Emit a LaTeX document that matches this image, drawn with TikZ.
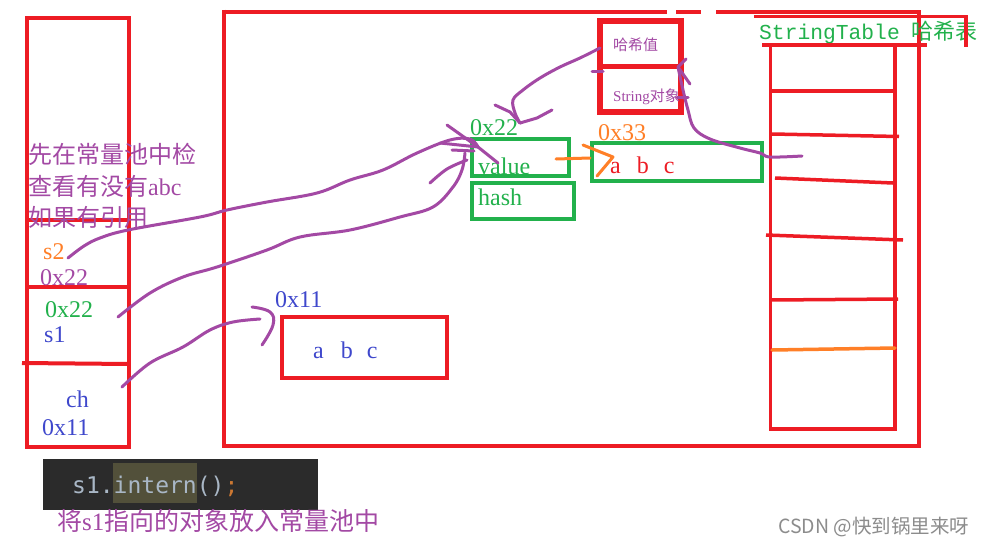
\documentclass[tikz,border=0pt]{standalone}
\usepackage{fontspec}
\setmainfont{Liberation Serif}
\newfontfamily\cjk{Noto Sans CJK SC}
\newfontfamily\monoA{Liberation Mono}
\newfontfamily\codefont{DejaVu Sans Mono}
\definecolor{pred}{HTML}{ED1C24}
\definecolor{pgreen}{HTML}{22B14C}
\definecolor{porange}{HTML}{FF7F27}
\definecolor{ppurple}{HTML}{A349A4}
\definecolor{pblue}{HTML}{3F48CC}
\definecolor{codebg}{HTML}{2B2B2B}
\definecolor{codehl}{HTML}{52503A}
\definecolor{codefg}{HTML}{A9B7C6}
\definecolor{codeor}{HTML}{CC7832}
\begin{document}
\begin{tikzpicture}[x=1pt,y=-1pt,
  txt/.style={anchor=base west, inner sep=0pt, font=\fontsize{24}{28}\selectfont},
  small/.style={anchor=base west, inner sep=0pt, font=\fontsize{15}{18}\selectfont},
  redbox/.style={draw=pred, line width=4pt, inner sep=0pt, outer sep=0pt},
  greenbox/.style={draw=pgreen, line width=4.5pt, inner sep=0pt, outer sep=0pt},
  redline/.style={draw=pred, line width=4pt},
  thinred/.style={draw=pred, line width=3.5pt},
  pcurve/.style={draw=ppurple, line width=3pt, line cap=round, line join=round},
  ocurve/.style={draw=porange, line width=3pt, line cap=round, line join=round}]
\useasboundingbox (0,0) rectangle (985,544);
\fill[white] (0,0) rectangle (985,544);

% ---- stack frame ----
\node[redbox, minimum width=102pt, minimum height=429pt] (stack) at (78,232.5) {};
\draw[redline] (27,220) -- (129,220);
\draw[redline] (27,287) -- (129,287);
\draw[redline] (22,363) -- (129,364);

\node[txt, text=ppurple] (t1) at (28,163) {\cjk 先在常量池中检};
\node[txt, text=ppurple] (t2) at (28,195) {{\cjk 查看有没有}abc};
\node[txt, text=ppurple] (t3) at (28,226) {\cjk 如果有引用};
\node[txt, text=porange] (s2) at (43,259) {s2};
\node[txt, text=ppurple] (s2addr) at (40,285) {0x22};
\node[txt, text=pgreen] (s1addr) at (45,317) {0x22};
\node[txt, text=pblue] (s1) at (44,342) {s1};
\node[txt, text=pblue] (ch) at (66,407) {ch};
\node[txt, text=pblue] (chaddr) at (42,435) {0x11};

% ---- heap ----
\draw[redline] (222,11.5) -- (667,11.5);
\draw[redline] (676,11.5) -- (701,11.5);
\draw[redline] (716,11.5) -- (921,11.5);
\draw[redline] (224,9.5) -- (224,446) -- (919,446) -- (919,9.5);

% hash entry box
\node[draw=pred, line width=5.5pt, minimum width=81pt, minimum height=91pt, inner sep=0pt] (hbox) at (640.5,66.5) {};
\draw[draw=pred, line width=5pt] (600,66) -- (681,66);
\node[small, text=ppurple] (hv) at (613,50) {\cjk 哈希值};
\node[small, text=ppurple] (so) at (613,101) {String{\cjk 对象}};

% String object
\node[txt, text=pgreen] (addr22) at (470,135) {0x22};
\node[greenbox, minimum width=97pt, minimum height=37pt] (valbox) at (520.5,157.5) {};
\node[greenbox, minimum width=102pt, minimum height=36pt] (hashbox) at (523,201) {};
\node[txt, text=pgreen] (val) at (478,174) {value};
\node[txt, text=pgreen] (hash) at (478,205) {hash};

% char array 0x33
\node[txt, text=porange] (addr33) at (598,140) {0x33};
\node[greenbox, minimum width=170pt, minimum height=38pt] (abc33) at (677,162) {};
\node[txt, text=pred] (abcr) at (610,173) {a\hspace{16pt}b\hspace{15pt}c};

% char array 0x11
\node[txt, text=pblue] (addr11) at (275,307) {0x11};
\node[redbox, line width=4.5pt, minimum width=165pt, minimum height=61pt] (abc11) at (364.5,347.5) {};
\node[txt, text=pblue] (abcb) at (313,358) {a\hspace{17pt}b\hspace{14pt}c};

% ---- StringTable ----
\node[txt, text=pgreen] (st) at (759,39) {{\fontsize{21.3}{24}\selectfont\monoA StringTable}\hspace*{12pt}{\fontsize{22}{26}\selectfont\cjk 哈希表}};
\draw[thinred] (754,16.5) -- (966,16.5) -- (966,47);
\node[draw=pred, line width=3.5pt, minimum width=124.5pt, minimum height=384.5pt, inner sep=0pt] (tbl) at (832.75,236.75) {};
\draw[redline] (762,44.5) -- (927,44.5);
\draw[thinred] (771,91) -- (895,91);
\draw[thinred] (772,134) -- (899,136.5);
\draw[thinred] (775,178) -- (893,183);
\draw[thinred] (766,235) -- (903,240);
\draw[thinred] (771,300) -- (898,299);
\draw[ocurve, line width=3.5pt] (772,350) -- (895,348);

% ---- purple connectors ----
\coordinate (s2tail) at (68,258);
\coordinate (s1tail) at (118,317);
\coordinate (chtail) at (122,387);
\coordinate (vtip) at (478,147);
\draw[pcurve] plot[smooth, tension=0.6] coordinates {(s2tail) (84,246) (100,238) (128,230) (200,217) (227,210) (267,202) (317,193) (350,180) (383,170) (417,153) (450,140) (470,139) (vtip)};
\draw[pcurve] plot[smooth, tension=0.6] coordinates {(s1tail) (150,293) (183,277) (217,267) (267,250) (300,237) (350,230) (400,217) (433,207) (453,187) (462,170) (465,153)};
\draw[pcurve] plot[smooth, tension=0.6] coordinates {(430,183) (447,169) (467,160)};
\draw[pcurve] (447,125) -- (vtip);
\draw[pcurve] (440,143) -- (vtip);
\draw[pcurve] (452,150) -- (474,151);
\draw[pcurve] (vtip) -- (498,163);
\draw[pcurve] plot[smooth, tension=0.6] coordinates {(chtail) (150,363) (183,347) (210,330) (233,322) (260,319)};
\draw[pcurve] plot[smooth, tension=0.7] coordinates {(252,307) (270,312) (273,325) (262,345)};

% hash value -> 0x22
\coordinate (hvtail) at (600,48);
\coordinate (o22tip) at (520,123);
\draw[pcurve] plot[smooth, tension=0.6] coordinates {(hvtail) (580,58) (560,67) (540,78) (523,90) (513,100) (515,113) (o22tip)};
\draw[pcurve] (o22tip) -- (537,118) -- (552,110);
\draw[pcurve] (495,105) -- (510,112) -- (o22tip);
\draw[pcurve] (592,71) -- (603,71);

% StringTable -> String object
\coordinate (sttail) at (802,156);
\coordinate (sotip) at (678,67);
\draw[pcurve] plot[smooth, tension=0.6] coordinates {(sttail) (770,157) (760,153) (740,148) (710,139) (694,128) (688,110) (683,90) (sotip)};
\draw[pcurve] (686,59) -- (sotip) -- (690,84);
\draw[pcurve] (677,97) -- (688,97);

% orange arrow value -> abc
\draw[ocurve] (556,159) -- (590,158);
\draw[ocurve] (583,145) -- (613,157) -- (597,176);

% ---- code snippet ----
\node[fill=codebg, minimum width=275pt, minimum height=51pt, inner sep=0pt] (code) at (180.5,484.5) {};
\node[fill=codehl, minimum width=84pt, minimum height=40pt, inner sep=0pt] (hl) at (155,483) {};
\node[anchor=base west, inner sep=0pt, font=\codefont\fontsize{23}{26}\selectfont] (codetxt) at (72,493) {\textcolor{codefg}{s1.intern()}\textcolor{codeor}{;}};
\node[txt, text=ppurple, font=\fontsize{25}{28}\selectfont] (cap) at (57,530) {{\cjk 将}s1{\cjk 指向的对象放入常量池中}};

% watermark
\node[anchor=base west, inner sep=0pt, text=black!45, font=\cjk\fontsize{19.5}{22}\selectfont] (wm) at (778,533) {CSDN @快到锅里来呀};
\end{tikzpicture}
\end{document}
